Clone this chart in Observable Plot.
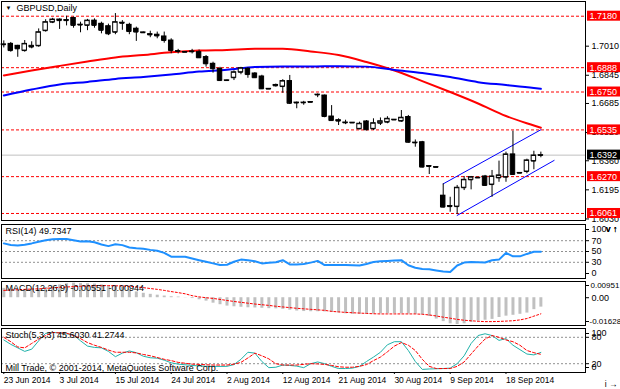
<!DOCTYPE html>
<html><head><meta charset="utf-8">
<script src="https://cdn.jsdelivr.net/npm/d3@7"></script>
<script src="https://cdn.jsdelivr.net/npm/@observablehq/plot@0.6"></script>
<style>
html,body{margin:0;padding:0;background:#fff;}
#chart{width:620px;height:389px;overflow:hidden;position:relative;background:#fff;}
#chart svg{display:block;}
</style></head><body><div id="chart"></div>
<script>
// ---- data ----
const opens  = [1.7020,1.7023,1.7012,1.6985,1.7005,1.7012,1.7098,1.7146,1.7161,1.7158,1.7170,1.7132,1.7128,1.7155,1.7137,1.7123,1.7089,1.7143,1.7131,1.7109,
                1.7088,1.7078,1.7075,1.7065,1.7042,1.6982,1.6977,1.6980,1.6976,1.6948,1.6910,1.6882,1.6816,1.6831,1.6862,1.6882,1.6855,1.6838,1.6768,1.6785,
                1.6781,1.6812,1.6690,1.6690,1.6693,1.6735,1.6730,1.6611,1.6590,1.6577,1.6576,1.6541,1.6583,1.6541,1.6573,1.6579,1.6593,1.6585,1.6608,1.6463,
                1.6465,1.6330,1.6324,1.6162,1.6103,1.6100,1.6207,1.6252,1.6264,1.6271,1.6225,1.6263,1.6267,1.6396,1.6291,1.6299,1.6358,1.6390];
const highs  = [1.7040,1.7031,1.7015,1.7042,1.7035,1.7108,1.7160,1.7168,1.7165,1.7180,1.7175,1.7146,1.7162,1.7165,1.7146,1.7135,1.7195,1.7155,1.7140,1.7118,
                1.7090,1.7095,1.7090,1.7090,1.7052,1.6992,1.6979,1.6992,1.6988,1.6957,1.6919,1.6890,1.6818,1.6870,1.6890,1.6888,1.6860,1.6845,1.6770,1.6795,
                1.6820,1.6844,1.6693,1.6697,1.6694,1.6739,1.6733,1.6673,1.6598,1.6590,1.6577,1.6579,1.6588,1.6598,1.6603,1.6610,1.6594,1.6645,1.6617,1.6478,
                1.6470,1.6333,1.6325,1.6229,1.6153,1.6220,1.6271,1.6271,1.6265,1.6277,1.6305,1.6358,1.6409,1.6528,1.6292,1.6369,1.6414,1.6409];
const lows   = [1.7000,1.6976,1.6947,1.6976,1.6995,1.7004,1.7090,1.7138,1.7105,1.7125,1.7112,1.7086,1.7098,1.7112,1.7080,1.7070,1.7075,1.7100,1.7075,1.7037,
                1.7084,1.7058,1.7052,1.7027,1.6967,1.6966,1.6975,1.6966,1.6940,1.6891,1.6857,1.6810,1.6814,1.6815,1.6848,1.6828,1.6828,1.6765,1.6765,1.6778,
                1.6743,1.6679,1.6655,1.6675,1.6691,1.6718,1.6604,1.6585,1.6560,1.6565,1.6574,1.6536,1.6530,1.6532,1.6560,1.6570,1.6591,1.6578,1.6460,1.6437,
                1.6320,1.6282,1.6322,1.6093,1.6068,1.6055,1.6191,1.6195,1.6262,1.6214,1.6153,1.6238,1.6238,1.6277,1.6289,1.6286,1.6309,1.6377];
const closes = [1.7018,1.6985,1.6995,1.7023,1.7012,1.7089,1.7146,1.7161,1.7155,1.7155,1.7128,1.7130,1.7155,1.7128,1.7100,1.7080,1.7146,1.7140,1.7093,1.7090,
                1.7086,1.7074,1.7068,1.7042,1.6985,1.6980,1.6976,1.6978,1.6944,1.6910,1.6882,1.6815,1.6815,1.6862,1.6885,1.6849,1.6831,1.6768,1.6767,1.6790,
                1.6812,1.6686,1.6688,1.6689,1.6692,1.6734,1.6611,1.6588,1.6585,1.6575,1.6575,1.6570,1.6536,1.6573,1.6584,1.6598,1.6592,1.6604,1.6465,1.6462,
                1.6324,1.6328,1.6323,1.6097,1.6100,1.6207,1.6252,1.6267,1.6263,1.6220,1.6271,1.6277,1.6396,1.6282,1.6290,1.6362,1.6390,1.6392];

const maIdx  = [0,4,8,12,16,20,24,28,32,36,40,44,48,52,56,60,64,68,72,76,77];
const maRed  = [1.6844,1.6872,1.6898,1.6923,1.6946,1.6960,1.6975,1.6985,1.6989,1.6995,1.6995,1.6980,1.6960,1.6920,1.6872,1.6812,1.6750,1.6685,1.6614,1.6560,1.6547];
const maBlue = [1.6730,1.6764,1.6793,1.6807,1.6824,1.6835,1.6849,1.6866,1.6876,1.6892,1.6895,1.6895,1.6896,1.6894,1.6875,1.6858,1.6835,1.6806,1.6790,1.6773,1.6768];

const channelUpperIdx = [63, 77],   channelUpperPrice = [1.6229, 1.6536];
const channelLowerIdx = [65, 78.9], channelLowerPrice = [1.6050, 1.6362];

const levels = [1.7180, 1.6888, 1.6750, 1.6535, 1.6270, 1.6061];
const lastPrice = 1.6392;
const priceTicks = [1.7010, 1.6845, 1.6685, 1.6520, 1.6360, 1.6195, 1.6030];

const rsi = [65,62,61,62.5,65,68,71,72.6,73,73,71,68.7,69,67,63,60,63.5,61.8,57.5,56,
             55.2,53,51.5,47.5,40.3,40.3,40.3,37,33.9,31,28,25,25.5,31,35,34,32,28,29,30,
             33.9,26,26,27,29.4,32.6,24.8,24.8,24.8,24.8,24.5,24.2,27,30.5,31.8,32.6,33.2,34,24.5,20,
             17.5,17.2,15,13,12,24,29.5,30.7,30.2,29.5,33.9,35,47.4,41,41,45.5,49.5,49.7347];
const rsiLevels = [70, 50, 30];

const macdHist = [0.0055,0.0050,0.0045,0.0045,0.0046,0.0052,0.0060,0.0068,0.0075,0.0082,0.0085,0.0083,0.0082,0.0080,0.0075,0.0068,0.0066,0.0060,0.0050,0.0034,
                  0.0026,0.0020,0.0015,0.0010,0.0006,0.0004,0.0001,-0.0005,-0.0012,-0.0020,-0.0032,-0.0041,-0.0049,-0.0053,-0.0056,-0.0059,-0.0060,-0.0062,-0.0064,-0.0065,
                  -0.0068,-0.0073,-0.0078,-0.0081,-0.0082,-0.0082,-0.0083,-0.0086,-0.0089,-0.0094,-0.0097,-0.0097,-0.0097,-0.0095,-0.0094,-0.0094,-0.0094,-0.0094,-0.0095,-0.0097,
                  -0.0100,-0.0110,-0.0125,-0.0140,-0.0153,-0.0157,-0.0153,-0.0145,-0.0137,-0.0132,-0.0127,-0.0116,-0.0108,-0.0103,-0.0097,-0.0090,-0.0070,-0.00551];
const macdSignal = [0.0043,0.0045,0.0047,0.0049,0.0051,0.0052,0.0055,0.0058,0.0061,0.0063,0.0065,0.0067,0.0069,0.0070,0.0071,0.0071,0.0070,0.0069,0.0067,0.0063,
                    0.0059,0.0054,0.0049,0.0043,0.0036,0.0030,0.0023,0.0012,0.0005,0.0000,-0.0004,-0.0010,-0.0016,-0.0022,-0.0027,-0.0032,-0.0037,-0.0041,-0.0045,-0.0050,
                    -0.0054,-0.0058,-0.0062,-0.0065,-0.0068,-0.0071,-0.0074,-0.0080,-0.0083,-0.0086,-0.0088,-0.0090,-0.0092,-0.0094,-0.0095,-0.0095,-0.0095,-0.0095,-0.0095,-0.0095,
                    -0.0097,-0.0101,-0.0107,-0.0114,-0.0120,-0.0127,-0.0132,-0.0135,-0.0138,-0.0140,-0.0140,-0.0139,-0.0137,-0.0135,-0.0130,-0.0122,-0.0108,-0.00944];
const macdMax = 0.00951, macdMin = -0.01628;

const stochMain = [74,64,56,48,53,72,89,91,90,88,85.5,72,60,57,56,48,36,44,49,45,
                   37,33.5,32.5,28,22,19,17.5,16,15,14,14,13.8,14,18,30,46,44,25,11,12,
                   17,16,14.5,11,20,24,20,14,9,9,10,14,25,35,46,63,70,70,50,25,
                   7,8,8.5,9,10,20,38,66,84,88,84,73,77,62,52,42,40,45.603];
const stochSignal = [80,70,58,56,66,76,84,91,90,89.5,84,77,68,62,57,51,46,46,46,44.5,
                     41,38,34,30,27,23,21,19,18.5,17.5,17,17,17,19,23,33,44,38,31,20,
                     17,17,17,18.5,20,19.5,18.5,16,13,12,12,14,18,27,35,47,60,68,62,50,
                     30,14,9,9,9,14,24,42,60,76,84,80,74,70,62,50,45,41.2744];
const stochLevels = [80, 20];

const dateIdx = [0,8,16,24,32,40,48,56,64,72];
const dateLabels = ["23 Jun 2014","3 Jul 2014","15 Jul 2014","24 Jul 2014","2 Aug 2014","12 Aug 2014","21 Aug 2014","30 Aug 2014","9 Sep 2014","18 Sep 2014"];

// ---- build tables ----
const candles = opens.map((o, i) => ({i, o, h: highs[i], l: lows[i], c: closes[i]}));
const red = maIdx.map((i, k) => ({i, v: maRed[k]}));
const blue = maIdx.map((i, k) => ({i, v: maBlue[k]}));
const chU = channelUpperIdx.map((i, k) => ({i, v: channelUpperPrice[k]}));
const chL = channelLowerIdx.map((i, k) => ({i, v: channelLowerPrice[k]}));
const rsiData = rsi.map((v, i) => ({i, v}));
const macdData = macdHist.map((v, i) => ({i, v, s: macdSignal[i]}));
const stochData = stochMain.map((v, i) => ({i, v, s: stochSignal[i]}));

const xDomain = [-0.33, 83.4];
const FONT = "'Liberation Sans', Arial, sans-serif";
const common = {
  width: 620, marginLeft: 1, marginRight: 35,
  x: {domain: xDomain, axis: null},
  style: {fontFamily: FONT, fontSize: "9px", color: "#000", background: "#fff", overflow: "visible"}
};
const xR = () => xDomain[1];
const HW = 0.32;

// ---- main price panel ----
const main = Plot.plot({
  ...common, height: 222, marginTop: 1, marginBottom: 2,
  y: {domain: [1.60212, 1.72634], axis: null},
  marks: [
    Plot.ruleY(levels, {y: d => d, stroke: "#ff0000", strokeDasharray: "3,2"}),
    Plot.ruleY([lastPrice], {y: d => d, stroke: "#c0c0c0"}),
    Plot.line(red, {x: "i", y: "v", stroke: "#ff0000", strokeWidth: 2, curve: "monotone-x"}),
    Plot.line(blue, {x: "i", y: "v", stroke: "#0000ff", strokeWidth: 2, curve: "monotone-x"}),
    Plot.line(chU, {x: "i", y: "v", stroke: "#0000ff", strokeWidth: 1}),
    Plot.line(chL, {x: "i", y: "v", stroke: "#0000ff", strokeWidth: 1}),
    Plot.ruleX(candles, {x: "i", y1: "l", y2: "h", stroke: "#000"}),
    Plot.rect(candles.filter(d => d.c >= d.o), {x1: d => d.i - HW, x2: d => d.i + HW, y1: "o", y2: "c", fill: "#fff", stroke: "#000"}),
    Plot.rect(candles.filter(d => d.c < d.o), {x1: d => d.i - HW, x2: d => d.i + HW, y1: "o", y2: "c", fill: "#000", stroke: "#000"}),
    Plot.ruleY(candles, {y: "c", x1: d => d.i - HW, x2: d => d.i + HW, stroke: "#000"}),
    Plot.ruleY(candles, {y: "o", x1: d => d.i - HW, x2: d => d.i + HW, stroke: "#000"}),
    Plot.frame({stroke: "#000"}),
    Plot.axisY(priceTicks, {anchor: "right", tickSize: 3, tickPadding: 3, tickFormat: d => d.toFixed(4), fontSize: 9}),
    Plot.rect(levels, {x1: xR, x2: xR, y1: d => d, y2: d => d, insetLeft: 2, insetRight: -35, insetTop: -5, insetBottom: -5, fill: "#ff0000"}),
    Plot.text(levels, {x: xR, y: d => d, text: d => d.toFixed(4), dx: 4, textAnchor: "start", fill: "#fff", fontSize: 9}),
    Plot.rect([lastPrice], {x1: xR, x2: xR, y1: d => d, y2: d => d, insetLeft: 2, insetRight: -35, insetTop: -5, insetBottom: -5, fill: "#000"}),
    Plot.text([lastPrice], {x: xR, y: d => d, text: d => d.toFixed(4), dx: 4, textAnchor: "start", fill: "#fff", fontSize: 9}),
    Plot.text(["\u25BC"], {frameAnchor: "top-left", dx: 4, dy: 4, fontSize: 6, fill: "#000"}),
    Plot.text(["GBPUSD,Daily"], {frameAnchor: "top-left", dx: 15, dy: 3, fontSize: 9, fill: "#000"})
  ]
});

// ---- RSI panel ----
const rsiPlot = Plot.plot({
  ...common, height: 58, marginTop: 2, marginBottom: 2,
  y: {domain: [0, 100], axis: null},
  marks: [
    Plot.ruleY(rsiLevels, {y: d => d, stroke: "#909090", strokeDasharray: "2,2"}),
    Plot.line(rsiData, {x: "i", y: "v", stroke: "#1e90ff", strokeWidth: 2}),
    Plot.frame({stroke: "#000"}),
    Plot.axisY(rsiLevels, {anchor: "right", tickSize: 3, tickPadding: 3, fontSize: 9}),
    Plot.axisY([100], {anchor: "right", tickSize: 3, tickPadding: 3, fontSize: 9, dy: 5}),
    Plot.axisY([0], {anchor: "right", tickSize: 3, tickPadding: 3, fontSize: 9, dy: -5}),
    Plot.text(["RSI(14) 49.7347"], {frameAnchor: "top-left", dx: 4, dy: 3, fontSize: 9, fill: "#000"})
  ]
});

// ---- MACD panel ----
const macdPlot = Plot.plot({
  ...common, height: 47, marginTop: 1, marginBottom: 2,
  y: {domain: [macdMin, macdMax], axis: null},
  marks: [
    Plot.ruleX(macdData, {x: "i", y1: () => 0, y2: "v", stroke: "#c0c0c0", strokeWidth: 3}),
    Plot.line(macdData, {x: "i", y: "s", stroke: "#ff0000", strokeWidth: 1, strokeDasharray: "2,2"}),
    Plot.frame({stroke: "#000"}),
    Plot.axisY([0], {anchor: "right", tickSize: 3, tickPadding: 3, fontSize: 9, tickFormat: () => "0.00"}),
    Plot.axisY([macdMax], {anchor: "right", tickSize: 3, tickPadding: 2, fontSize: 8, dy: 4, tickFormat: d => d.toFixed(5)}),
    Plot.axisY([macdMin], {anchor: "right", tickSize: 3, tickPadding: 1, fontSize: 8, dy: -4, tickFormat: d => d.toFixed(5)}),
    Plot.text(["MACD(12,26,9) -0.00551 -0.00944"], {frameAnchor: "top-left", dx: 4, dy: 3, fontSize: 9, fill: "#000"})
  ]
});

// ---- Stochastic panel ----
const stochPlot = Plot.plot({
  ...common, height: 62, marginTop: 1, marginBottom: 17,
  y: {domain: [0, 100], axis: null},
  marks: [
    Plot.ruleY(stochLevels, {y: d => d, stroke: "#909090", strokeDasharray: "2,2"}),
    Plot.line(stochData, {x: "i", y: "v", stroke: "#20b2aa", strokeWidth: 1}),
    Plot.line(stochData, {x: "i", y: "s", stroke: "#ff0000", strokeWidth: 1, strokeDasharray: "3,2"}),
    Plot.frame({stroke: "#000"}),
    Plot.axisY(stochLevels, {anchor: "right", tickSize: 3, tickPadding: 3, fontSize: 9}),
    Plot.axisY([100], {anchor: "right", tickSize: 3, tickPadding: 3, fontSize: 9, dy: 5}),
    Plot.axisY([0], {anchor: "right", tickSize: 3, tickPadding: 3, fontSize: 9, dy: -5}),
    Plot.axisX(dateIdx, {anchor: "bottom", tickSize: 2, tickPadding: 2, fontSize: 8.5, textAnchor: "start",
      tickFormat: d => dateLabels[dateIdx.indexOf(d)]}),
    Plot.text(["Stoch(5,3,3) 45.6030 41.2744"], {frameAnchor: "top-left", dx: 4, dy: 3, fontSize: 9, fill: "#000"}),
    Plot.text(["Mill Trade, \u00A9 2001-2014, MetaQuotes Software Corp."], {frameAnchor: "bottom-left", dx: 4, dy: -2, fontSize: 9, fill: "#000"})
  ]
});

const el = document.getElementById("chart");
[main, rsiPlot, macdPlot, stochPlot].forEach(p => el.appendChild(p));
</script></body></html>
